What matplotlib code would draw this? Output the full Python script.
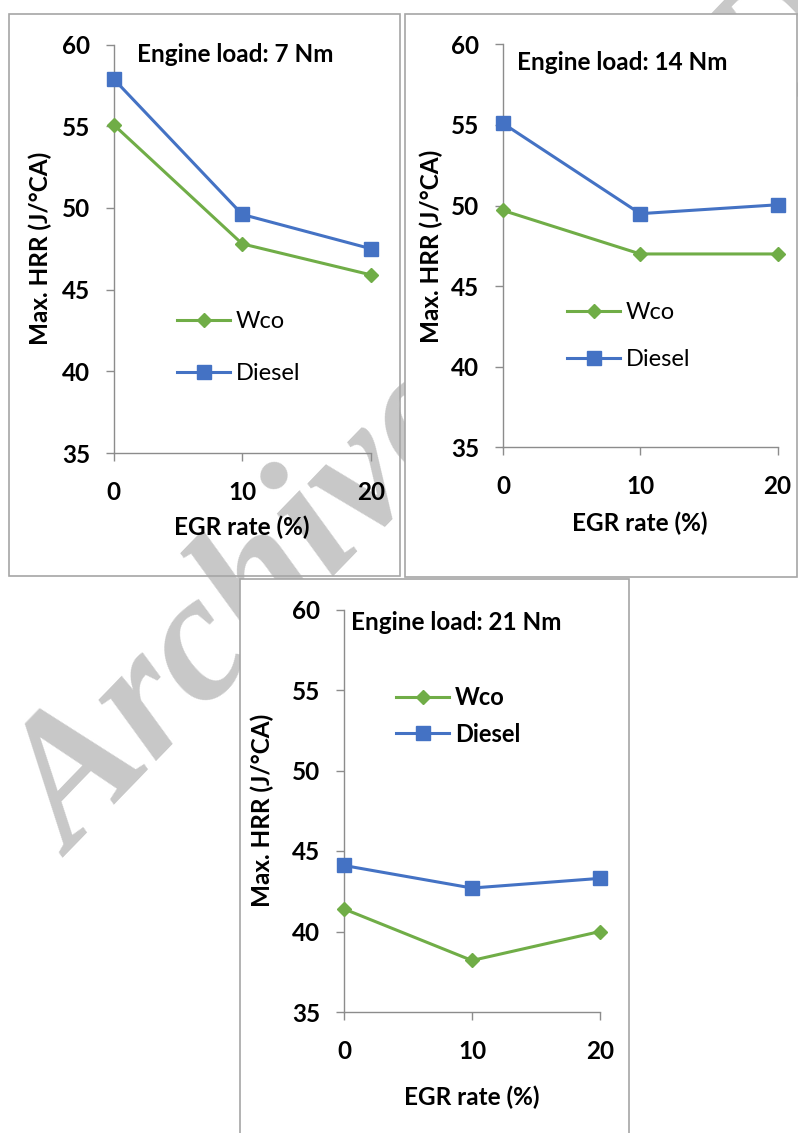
import matplotlib.pyplot as plt
from matplotlib.patches import Rectangle

plt.rcParams['font.family'] = ['Lato', 'DejaVu Sans']

# data
egr = [0, 10, 20]
loads = ['7 Nm', '14 Nm', '21 Nm']
wco = [[55.1, 47.8, 45.9],
       [49.7, 47.0, 47.0],
       [41.4, 38.2, 40.0]]
diesel = [[57.9, 49.6, 47.5],
          [55.1, 49.5, 50.05],
          [44.1, 42.7, 43.3]]
yticks = [35, 40, 45, 50, 55, 60]

W, H = 798, 1133
green = '#70AD47'
blue = '#4472C4'
grey = '#8c8c8c'
fs = 17.5

# layout of each panel in pixels
panels = [
    dict(box=(9, 14, 400, 576), ax=(113.5, 44.5, 371, 453), title=(137, 55),
         leg=(177, 347.5), legsp=1.3, legbold=False, xlab=527, ylab=40, opaque=False),
    dict(box=(405, 14, 797, 577), ax=(503, 44.4, 777.5, 447.4), title=(517, 62),
         leg=(567, 336), legsp=1.09, legbold=False, xlab=523, ylab=431, opaque=True),
    dict(box=(240, 579, 629, 1145), ax=(344, 609.5, 600, 1012), title=(351, 623),
         leg=(396, 716), legsp=0.56, legbold=True, xlab=1097, ylab=262, opaque=True),
]

fig = plt.figure(figsize=(W / 100, H / 100), dpi=100)

# watermark
fig.text(72 / W, 1 - 858 / H, 'Archive of SID', rotation=46, rotation_mode='anchor',
         ha='left', va='baseline', fontsize=132, family='Liberation Serif',
         weight='bold', style='italic', color='#c8c8c8', zorder=0.5)

for i, p in enumerate(panels):
    x0, y0, x1, y1 = p['box']
    rect = Rectangle((x0 / W, 1 - y1 / H), (x1 - x0) / W, (y1 - y0) / H,
                     transform=fig.transFigure, edgecolor='#a6a6a6', lw=1.2,
                     facecolor='white' if p['opaque'] else 'none',
                     zorder=2 if p['opaque'] else 1)
    fig.add_artist(rect)

    l, t, r, b = p['ax']
    ax = fig.add_axes([l / W, 1 - b / H, (r - l) / W, (b - t) / H])
    ax.set_zorder(3 if p['opaque'] else 1)
    ax.set_facecolor('none')

    ax.plot(egr, wco[i], color=green, lw=2.2, marker='D', ms=7.5,
            clip_on=False, label='Wco', zorder=3)
    ax.plot(egr, diesel[i], color=blue, lw=2.2, marker='s', ms=9.5,
            clip_on=False, label='Diesel', zorder=3)

    ax.set_xlim(0, 20)
    ax.set_ylim(35, 60)
    ax.set_xticks(egr)
    ax.set_yticks(yticks)
    for s in ['top', 'right']:
        ax.spines[s].set_visible(False)
    for s in ['left', 'bottom']:
        ax.spines[s].set_color(grey)
        ax.spines[s].set_linewidth(1.0)
    ax.tick_params(length=6, width=1.0, color=grey, labelsize=fs)
    ax.tick_params(axis='y', pad=11)
    ax.tick_params(axis='x', pad=14)
    for lab in ax.get_xticklabels() + ax.get_yticklabels():
        lab.set_fontweight('bold')

    ax.set_xlabel('EGR rate (%)', fontsize=fs, fontweight='bold', va='center')
    ax.xaxis.set_label_coords(((l + r) / 2) / W, 1 - p['xlab'] / H,
                              transform=fig.transFigure)
    ax.set_ylabel('Max. HRR (J/°CA)', fontsize=fs, fontweight='bold', va='center')
    ax.yaxis.set_label_coords(p['ylab'] / W, 1 - ((t + b) / 2) / H,
                              transform=fig.transFigure)

    fig.text(p['title'][0] / W, 1 - p['title'][1] / H, 'Engine load: ' + loads[i],
             fontsize=fs, fontweight='bold', ha='left', va='center',
             zorder=4)

    leg = ax.legend(loc='center left',
                    bbox_to_anchor=(p['leg'][0] / W, 1 - p['leg'][1] / H),
                    bbox_transform=fig.transFigure, frameon=False,
                    borderpad=0, borderaxespad=0, handlelength=2.25,
                    handletextpad=0.25, labelspacing=p['legsp'],
                    prop={'size': 17, 'weight': 'bold' if p['legbold'] else 'normal'})

fig.savefig('out.png', dpi=100)
